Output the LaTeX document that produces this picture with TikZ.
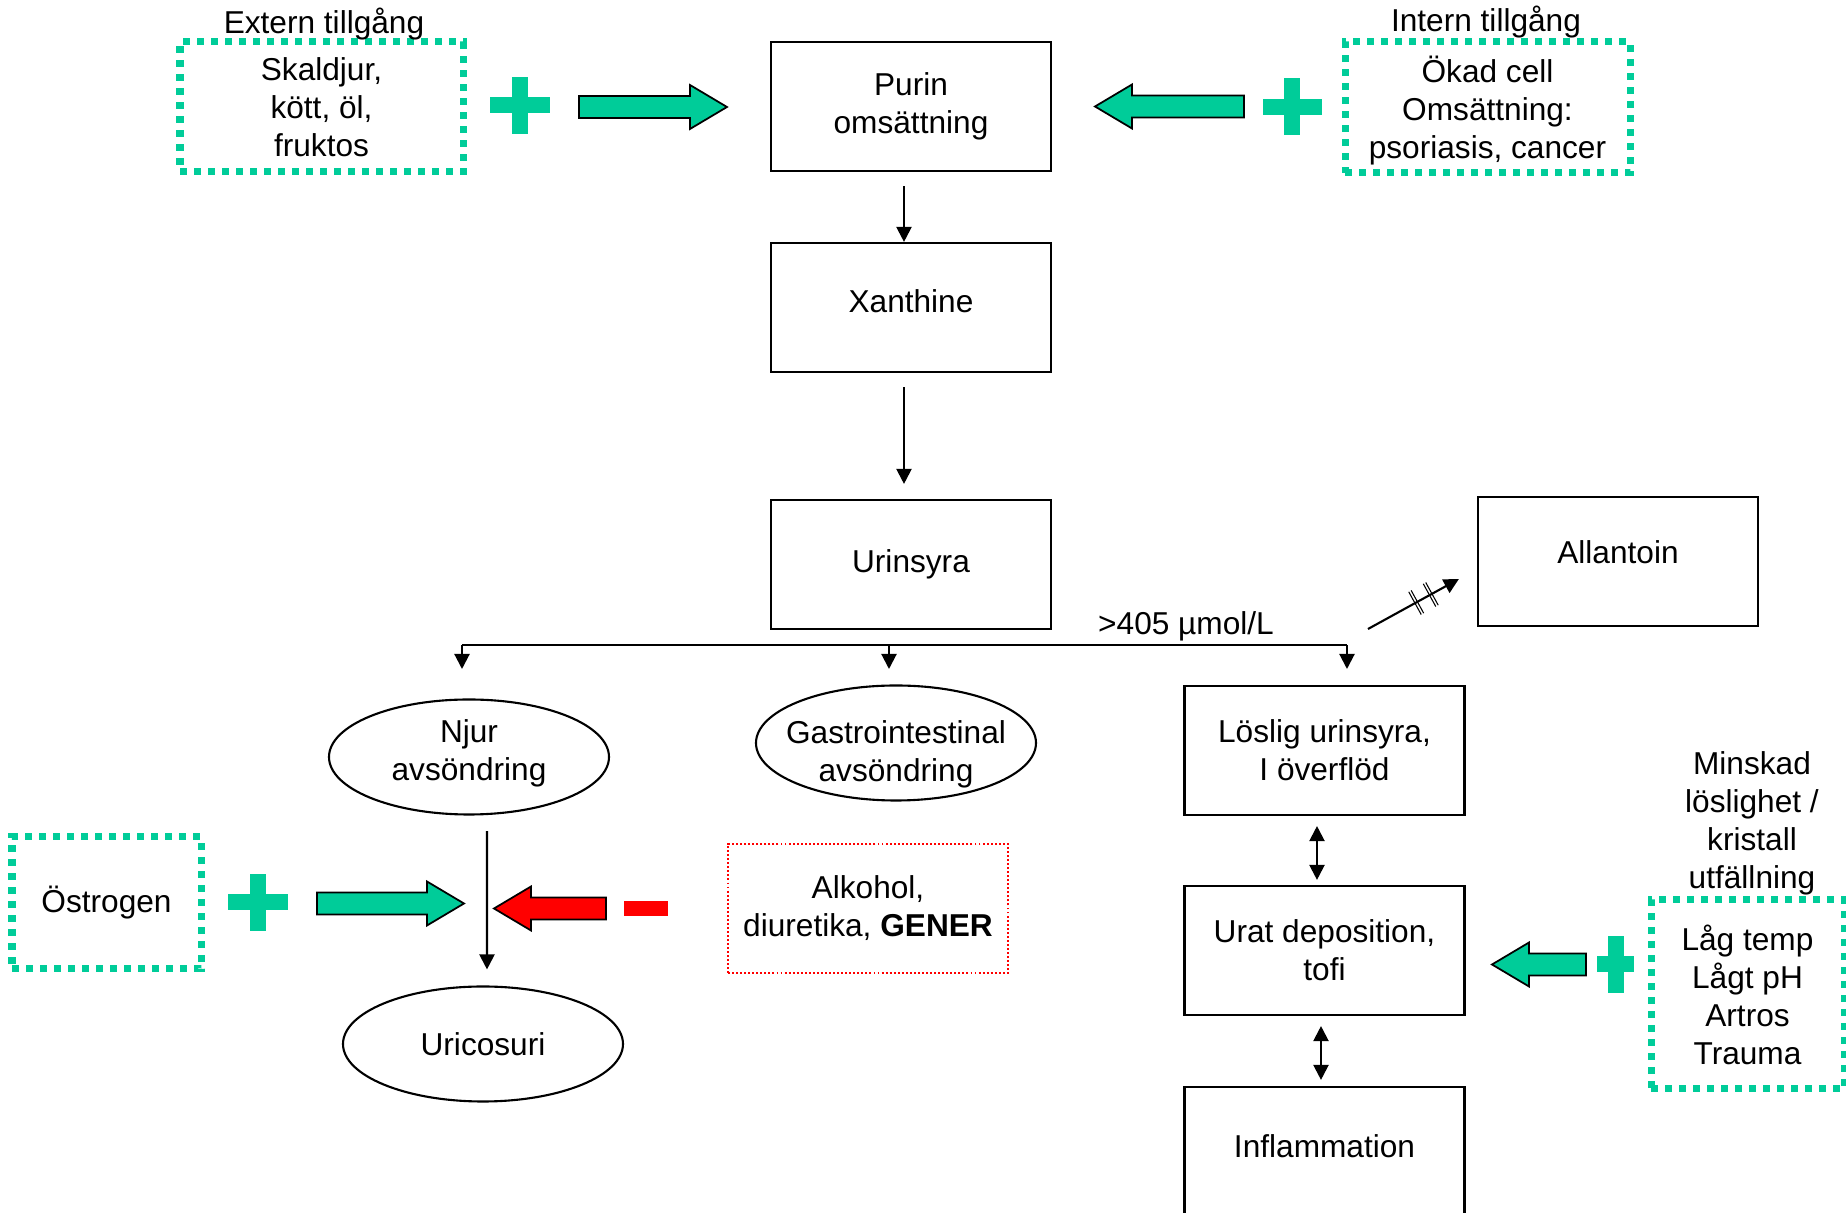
\documentclass[tikz,border=0pt]{standalone}
\usepackage{fontspec}
\setmainfont{Liberation Sans}
\usetikzlibrary{arrows.meta, shapes.geometric}
\definecolor{urgreen}{HTML}{00CC99}
\definecolor{urred}{HTML}{FF0000}
\tikzset{
  >={Triangle[length=0.15cm, width=0.15cm]},
  every picture/.style={line join=miter, font=\fontsize{9}{10.8}\selectfont},
  box/.style={draw, line width=0.6pt, minimum width=2.8cm, minimum height=1.29cm, inner sep=0pt, align=center},
  oval/.style={draw, ellipse, line width=0.6pt, minimum width=2.8cm, minimum height=1.15cm, inner xsep=-3mm, inner ysep=-1mm, align=center},
  supply/.style={draw=urgreen, line width=0.07cm, dash pattern=on 0.07cm off 0.07cm, inner sep=0pt, align=center},
  inhib/.style={draw=urred, line width=0.55pt, dash pattern=on 0.55pt off 0.6pt, minimum width=2.8cm, minimum height=1.29cm, inner sep=0pt, align=center},
  conn/.style={->, line width=0.6pt},
  % block arrow with its tip at the origin, pointing along +x: {length}{fill}
  pics/blockarr/.style n args={2}{code={
    \draw[fill=#2, line width=0.5pt] (0,0) -- (-0.37,0.22) -- (-0.37,0.11) -- (-#1,0.11)
      -- (-#1,-0.11) -- (-0.37,-0.11) -- (-0.37,-0.22) -- cycle;
  }},
  % plus sign, argument = half width
  pics/plussign/.style={code={
    \fill[urgreen] (-#1,-0.08) rectangle (#1,0.08);
    \fill[urgreen] (-0.08,-0.285) rectangle (0.08,0.285);
  }},
  % double stroke across a connector
  pics/hashtick/.style={code={
    \draw[-, line width=0.3pt] (-0.014,-0.13) -- (-0.014,0.13) (0.014,-0.13) -- (0.014,0.13);
  }},
}

\begin{document}
\begin{tikzpicture}[x=1cm, y=-1cm]
  \useasboundingbox (0,0) rectangle (18.46,12.13);
  % supply (top row)
  \node[supply, minimum width=2.83cm, minimum height=1.30cm] (extern) at (3.215,1.07) {Skaldjur,\\kött, öl,\\fruktos};
  \node (externlbl) at (3.24,0.24) {Extern tillgång};
  \node[box] (purin) at (9.11,1.065) {Purin\\omsättning};
  \node[supply, minimum width=2.85cm, minimum height=1.31cm, text depth=0pt] (intern) at (14.875,1.075) {Ökad cell\\Omsättning:\\psoriasis, cancer};
  \node (internlbl) at (14.86,0.22) {Intern tillgång};
  \pic at (5.20,1.055) {plussign=0.30};
  \pic at (7.27,1.07) {blockarr={1.48}{urgreen}};
  \pic at (12.92,1.07) {plussign=0.295};
  \pic[rotate=180] at (10.95,1.065) {blockarr={1.49}{urgreen}};

  % main chain
  \node[box, text depth=0.12cm] (xanth) at (9.11,3.075) {Xanthine};
  \node[box] (urin) at (9.11,5.645) {Urinsyra};
  \node[box, text depth=0.19cm] (allan) at (16.18,5.615) {Allantoin};
  \node (limit) at (11.86,6.26) {>405 µmol/L};
  \draw[conn, shorten <=0.14cm] ([xshift=-0.07cm]purin.south) -- ([xshift=-0.07cm]xanth.north);
  \draw[conn, shorten <=0.14cm, shorten >=0.15cm] ([xshift=-0.07cm]xanth.south) -- ([xshift=-0.07cm]urin.north);

  % three ways out of urinsyra
  \coordinate (split) at ([yshift=-0.15cm]urin.south);
  \coordinate (brl) at (4.62,6.69);
  \coordinate (brm) at (8.89,6.69);
  \coordinate (brr) at (13.47,6.69);
  \draw[line width=0.6pt] (split -| brl) -- (split -| brr);
  \draw[conn] (split -| brl) -- (brl);
  \draw[conn] (split -| brm) -- (brm);
  \draw[conn] (split -| brr) -- (brr);
  \coordinate (allstart) at (13.68,6.29);
  \draw[conn] (allstart) -- ([xshift=-0.18cm, yshift=-0.175cm]allan.west)
    pic[pos=0.53, sloped] {hashtick} pic[pos=0.69, sloped] {hashtick};

  \node[oval, text depth=0.14cm] (njur) at (4.69,7.57) {Njur\\avsöndring};
  \node[oval, text height=0.84cm] (gastro) at (8.96,7.43) {Gastrointestinal\\avsöndring};
  \node[oval] (urico) at (4.83,10.44) {Uricosuri};
  \draw[conn, shorten <=0.155cm, shorten >=0.16cm] ([xshift=0.18cm]njur.south) -- ([xshift=0.04cm]urico.north);

  % renal excretion, for and against
  \node[supply, minimum width=1.89cm, minimum height=1.32cm] (ostro) at (1.065,9.03) {Östrogen};
  \pic at (2.58,9.025) {plussign=0.30};
  \pic at (4.64,9.035) {blockarr={1.47}{urgreen}};
  \pic[rotate=180] at (4.94,9.085) {blockarr={1.12}{urred}};
  \fill[urred] (6.24,9.01) rectangle (6.68,9.16);
  \node[inhib] (alko) at (8.68,9.085) {Alkohol,\\diuretika, \textbf{GENER}};

  % deposition side
  \node[box] (losl) at (13.245,7.505) {Löslig urinsyra,\\I överflöd};
  \node[box] (urat) at (13.245,9.505) {Urat deposition,\\tofi};
  \node[box, text depth=0.10cm] (infl) at (13.245,11.515) {Inflammation};
  \draw[<->, line width=0.6pt, shorten <=0.1cm, shorten >=0.05cm] ([xshift=-0.075cm]losl.south) -- ([xshift=-0.075cm]urat.north);
  \draw[<->, line width=0.6pt, shorten <=0.1cm, shorten >=0.06cm] ([xshift=-0.035cm]urat.south) -- ([xshift=-0.035cm]infl.north);
  \node[align=center] (minskad) at (17.52,8.23) {Minskad\\löslighet /\\kristall\\utfällning};
  \node[supply, minimum width=1.93cm, minimum height=1.89cm] (laag) at (17.475,9.945) {Låg temp\\Lågt pH\\Artros\\Trauma};
  \pic at (16.155,9.645) {plussign=0.185};
  \pic[rotate=180] at (14.92,9.645) {blockarr={0.94}{urgreen}};
\end{tikzpicture}
\end{document}
